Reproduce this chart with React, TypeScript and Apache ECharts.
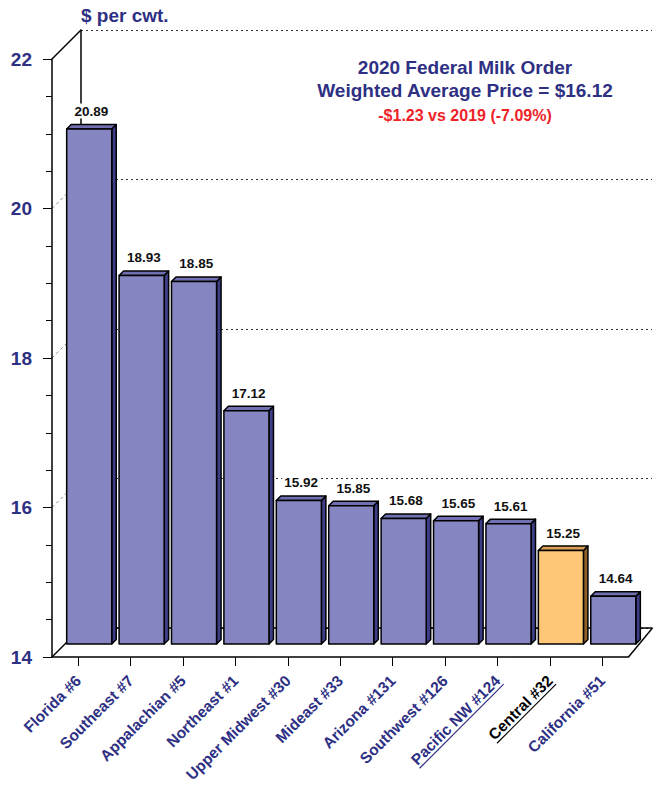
import React, { useEffect, useRef } from "react";
import * as echarts from "echarts";

const categories = [
  "Florida #6",
  "Southeast #7",
  "Appalachian #5",
  "Northeast #1",
  "Upper Midwest #30",
  "Mideast #33",
  "Arizona #131",
  "Southwest #126",
  "Pacific NW #124",
  "Central #32",
  "California #51",
];
const prices = [20.89, 18.93, 18.85, 17.12, 15.92, 15.85, 15.68, 15.65, 15.61, 15.25, 14.64];
const yTicks = [14, 16, 18, 20, 22];
const highlighted = "Central #32";
const underlined = ["Pacific NW #124", "Central #32"];
const titleLines = ["2020 Federal Milk Order", "Weighted Average Price = $16.12"];
const subtitle = "-$1.23 vs 2019 (-7.09%)";
const unitName = "$ per cwt.";

const FONT = "'Liberation Sans', Arial, Helvetica, sans-serif";
const NAVY = "#2e3083";
const DEPTH = 29;
const Y_MIN = 14;
const Y_MAX = 22;
const LABEL_SIZE = 15.5;
const LABEL_MARGIN = 21;

function measure(text: string, font: string): number {
  const c = document.createElement("canvas").getContext("2d");
  if (!c) return text.length * 8;
  c.font = font;
  return c.measureText(text).width;
}

export default function App() {
  const ref = useRef<HTMLDivElement>(null);
  useEffect(() => {
    if (!ref.current) return;
    const chart = echarts.init(ref.current, undefined, { renderer: "svg" });
    const gridLeft = 52;
    const gridTop = 59;
    const gridBottom = 131;
    const gridRight = 24.5;

    const wallSeries = {
      type: "custom",
      xAxisIndex: 0,
      yAxisIndex: 0,
      data: yTicks.map((v) => [0, v]),
      renderItem: (params: any, api: any) => {
        const v = api.value(1);
        const band = api.size([1, 0])[0];
        const p = api.coord([0, v]);
        const x = p[0] - band / 2;
        const y = p[1];
        const solid = v === Y_MIN || v === Y_MAX;
        const children: any[] = [
          {
            type: "line",
            shape: { x1: x, y1: y, x2: x + DEPTH, y2: y - DEPTH },
            style: solid
              ? { stroke: "#000", lineWidth: 1.5 }
              : { stroke: "#8a8a8a", lineWidth: 1, lineDash: [3, 3] },
          },
        ];
        if (v === Y_MIN) {
          const r = api.coord([categories.length - 1, v]);
          const xr = r[0] + band / 2;
          children.push({
            type: "line",
            shape: { x1: xr, y1: y, x2: xr + 24, y2: y - DEPTH },
            style: { stroke: "#000", lineWidth: 1.5 },
          });
        }
        return { type: "group", children };
      },
      z: 1,
    };

    const barSeries = {
      type: "custom",
      xAxisIndex: 0,
      yAxisIndex: 0,
      data: prices.map((v, i) => [i, v]),
      renderItem: (params: any, api: any) => {
        const i = api.value(0);
        const v = api.value(1);
        const band = api.size([1, 0])[0];
        const base = api.coord([i, Y_MIN]);
        const top = api.coord([i, v]);
        const w = band * 0.86;
        const dx = 11;
        const dy = -13;
        const d = 4.5;
        const x0 = base[0] - w / 2 + dx;
        const yB = base[1] + dy;
        const yT = top[1] + dy;
        const hi = categories[i] === highlighted;
        const front = hi ? "#ffc878" : "#8585c1";
        const topC = hi ? "#d9a055" : "#6f6fb2";
        const side = hi ? "#8f6129" : "#3e3e88";
        const stroke = { stroke: "#000", lineWidth: 1.5, lineJoin: "round" };
        const label = prices[i].toFixed(2);
        return {
          type: "group",
          children: [
            {
              type: "polygon",
              shape: {
                points: [
                  [x0 + w, yT],
                  [x0 + w + d, yT - d],
                  [x0 + w + d, yB - d],
                  [x0 + w, yB],
                ],
              },
              style: { fill: side, ...stroke },
            },
            {
              type: "polygon",
              shape: {
                points: [
                  [x0, yT],
                  [x0 + d, yT - d],
                  [x0 + w + d, yT - d],
                  [x0 + w, yT],
                ],
              },
              style: { fill: topC, ...stroke },
            },
            {
              type: "rect",
              shape: { x: x0, y: yT, width: w, height: yB - yT },
              style: { fill: front, ...stroke },
            },
            {
              type: "text",
              style: {
                text: label,
                x: x0 + w / 2 + d / 2,
                y: yT - d - 6,
                align: "center",
                verticalAlign: "bottom",
                textAlign: "center",
                textVerticalAlign: "bottom",
                font: `bold 13.5px ${FONT}`,
                fill: "#111",
                backgroundColor: "#fff",
                padding: [1, 2, 0, 2],
              },
            },
          ],
        };
      },
      z: 3,
    };

    const labelFont = `bold ${LABEL_SIZE}px ${FONT}`;
    const underlineSeries = {
      type: "custom",
      xAxisIndex: 0,
      yAxisIndex: 0,
      data: underlined.map((n) => [categories.indexOf(n), Y_MIN]),
      renderItem: (params: any, api: any) => {
        const i = api.value(0);
        const p = api.coord([i, Y_MIN]);
        const ax = p[0];
        const ay = p[1] + LABEL_MARGIN;
        const w = measure(categories[i], labelFont);
        const c = Math.SQRT1_2;
        const off = LABEL_SIZE / 2 + 1;
        const color = categories[i] === highlighted ? "#000" : NAVY;
        return {
          type: "line",
          shape: {
            x1: ax - w * c + off * c,
            y1: ay + w * c + off * c,
            x2: ax + off * c,
            y2: ay + off * c,
          },
          style: { stroke: color, lineWidth: 1.2 },
        };
      },
      z: 3,
    };

    chart.setOption({
      animation: false,
      backgroundColor: "#fff",
      textStyle: { fontFamily: FONT },
      title: {
        left: 465,
        top: 55.5,
        textAlign: "center",
        padding: 0,
        itemGap: 5,
        text: titleLines.join("\n"),
        textStyle: {
          fontFamily: FONT,
          fontSize: 19,
          fontWeight: "bold",
          color: NAVY,
          lineHeight: 23,
        },
        subtext: subtitle,
        subtextStyle: {
          fontFamily: FONT,
          fontSize: 16,
          fontWeight: "bold",
          color: "#ee2328",
          lineHeight: 18,
        },
      },
      grid: [
        { left: gridLeft, right: gridRight, top: gridTop, bottom: gridBottom },
        { left: gridLeft + DEPTH, right: 1, top: gridTop - DEPTH, bottom: gridBottom + DEPTH },
      ],
      xAxis: [
        {
          type: "category",
          gridIndex: 0,
          data: categories.map((c) =>
            c === highlighted ? { value: c, textStyle: { color: "#000" } } : c
          ),
          axisLine: { show: true, lineStyle: { color: "#000", width: 1.5 } },
          axisTick: { show: true, alignWithLabel: true, length: 9, lineStyle: { color: "#000", width: 1 } },
          axisLabel: {
            interval: 0,
            rotate: 45,
            margin: LABEL_MARGIN,
            fontFamily: FONT,
            fontSize: LABEL_SIZE,
            fontWeight: "bold",
            color: NAVY,
          },
          z: 5,
        },
        {
          type: "category",
          gridIndex: 1,
          data: categories,
          axisLine: { show: true, lineStyle: { color: "#000", width: 1.5 } },
          axisTick: { show: false },
          axisLabel: { show: false },
          z: 0,
        },
      ],
      yAxis: [
        {
          type: "value",
          gridIndex: 0,
          min: Y_MIN,
          max: Y_MAX,
          interval: 2,
          axisLine: { show: true, lineStyle: { color: "#000", width: 1.5 } },
          axisTick: { show: true, length: 9, lineStyle: { color: "#000", width: 1 } },
          minorTick: { show: true, splitNumber: 4, length: 6, lineStyle: { color: "#000", width: 1 } },
          axisLabel: {
            margin: 20,
            fontFamily: FONT,
            fontSize: 19,
            fontWeight: "bold",
            color: NAVY,
          },
          splitLine: { show: false },
          z: 5,
        },
        {
          type: "value",
          gridIndex: 1,
          min: Y_MIN,
          max: Y_MAX,
          interval: 2,
          name: unitName,
          nameLocation: "end",
          nameGap: 15,
          nameTextStyle: {
            align: "left",
            verticalAlign: "middle",
            fontFamily: FONT,
            fontSize: 19,
            fontWeight: "bold",
            color: NAVY,
          },
          axisLine: { show: true, lineStyle: { color: "#000", width: 1.5 } },
          axisTick: { show: false },
          axisLabel: { show: false },
          splitLine: { show: true, lineStyle: { color: "#333", width: 1, type: [2, 3] } },
          z: 0,
        },
      ],
      series: [wallSeries, barSeries, underlineSeries],
    });
    return () => chart.dispose();
  }, []);
  return (
    <div
      ref={ref}
      style={{ position: "absolute", left: 0, top: 0, width: 653, height: 788 }}
    />
  );
}
